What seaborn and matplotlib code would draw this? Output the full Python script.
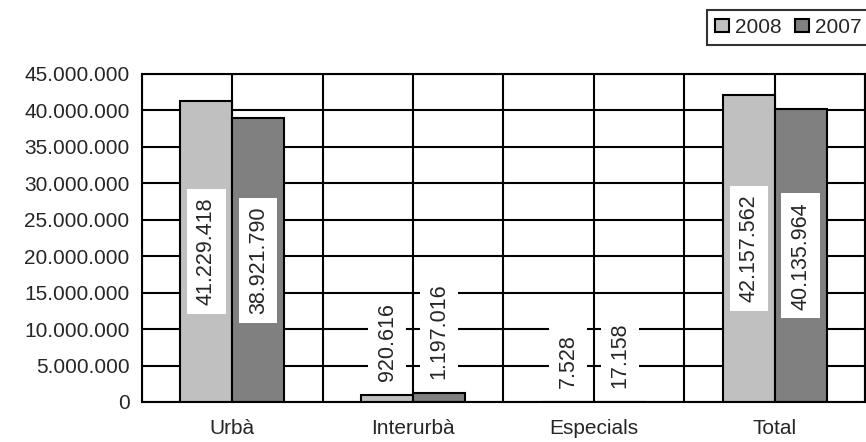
import pandas as pd
import seaborn as sns
import matplotlib.pyplot as plt
from matplotlib.ticker import FuncFormatter, MultipleLocator, FixedLocator

categories = ["Urbà", "Interurbà", "Especials", "Total"]
years = ["2008", "2007"]
values_2008 = [41229418, 920616, 7528, 42157562]
values_2007 = [38921790, 1197016, 17158, 40135964]
colors = {"2008": "#C0C0C0", "2007": "#808080"}


def dotted(v):
    return f"{int(round(v)):,}".replace(",", ".")


def show_bar_plot(df):
    sns.set_style("white")
    plt.rcParams["font.family"] = ["Liberation Sans", "DejaVu Sans"]
    fig, ax = plt.subplots(figsize=(8.66, 4.42), dpi=100)
    fig.subplots_adjust(left=0.164, right=0.9988, bottom=0.0905, top=0.8326)

    sns.barplot(data=df, x="cat", y="value", hue="year", hue_order=years,
                order=categories, palette=colors, saturation=1,
                width=0.575, gap=0, edgecolor="black", linewidth=1.5,
                ax=ax, zorder=2)

    ax.set_xlim(-0.5, len(categories) - 0.5)
    ax.set_ylim(0, 45000000)
    ax.yaxis.set_major_locator(MultipleLocator(5000000))
    ax.yaxis.set_major_formatter(FuncFormatter(lambda v, p: dotted(v)))

    # boundaries as major ticks, category names on minor ticks
    ax.xaxis.set_major_locator(FixedLocator([i - 0.5 for i in range(len(categories) + 1)]))
    ax.xaxis.set_minor_locator(FixedLocator(range(len(categories))))
    ax.set_xticklabels([], minor=False)
    ax.set_xticklabels(categories, minor=True, fontsize=15)
    ax.tick_params(axis="x", which="major", length=6, width=1.5, direction="out", color="black")
    ax.tick_params(axis="x", which="minor", length=0, pad=12)
    ax.tick_params(axis="y", length=6, width=1.5, direction="out", color="black",
                   pad=3, labelsize=15)
    ax.set_xlabel("")
    ax.set_ylabel("")

    ax.set_axisbelow(True)
    ax.grid(axis="y", color="black", linewidth=1.5)
    ax.grid(axis="x", which="both", color="black", linewidth=1.5)
    for s in ax.spines.values():
        s.set_color("black")
        s.set_linewidth(1.5)

    # value labels
    for cont in ax.containers:
        for bar in cont:
            h = bar.get_height()
            xc = bar.get_x() + bar.get_width() / 2
            box = dict(boxstyle="square,pad=0.4", facecolor="white", edgecolor="none")
            if h > 15000000:
                ax.text(xc, h / 2, dotted(h), rotation=90, ha="center", va="center",
                        fontsize=15.5, bbox=box, zorder=4)
            else:
                ax.annotate(dotted(h), (xc, h), xytext=(0, 10), textcoords="offset points",
                            rotation=90, ha="center", va="bottom", fontsize=15.5,
                            bbox=box, zorder=4)

    handles, labels = ax.get_legend_handles_labels()
    ax.get_legend().remove()
    leg = ax.legend(handles, labels, loc="upper left",
                    bbox_to_anchor=(707 / 866, 1 - 9.5 / 442),
                    bbox_transform=fig.transFigure, ncol=2, fontsize=15,
                    handlelength=0.65, handleheight=0.65, handletextpad=0.3,
                    columnspacing=0.65, borderpad=0.4, borderaxespad=0,
                    fancybox=False, frameon=True)
    leg.get_frame().set_edgecolor("black")
    leg.get_frame().set_linewidth(1.5)

    plt.savefig("out.png", dpi=100)


if __name__ == "__main__":
    rows = []
    for i, c in enumerate(categories):
        rows.append({"cat": c, "year": "2008", "value": values_2008[i]})
        rows.append({"cat": c, "year": "2007", "value": values_2007[i]})
    data = pd.DataFrame(rows)
    show_bar_plot(data)
